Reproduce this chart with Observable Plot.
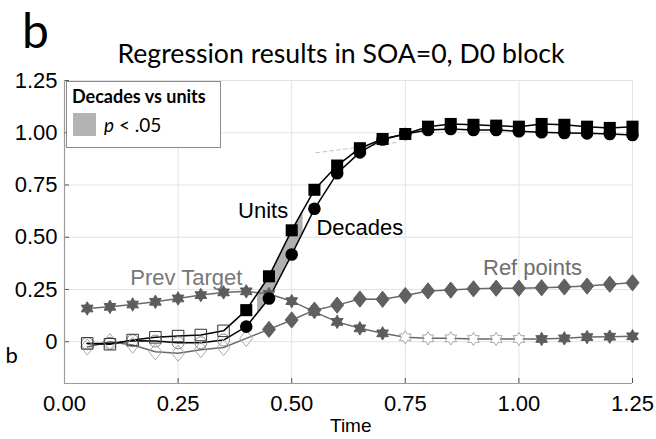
<!DOCTYPE html>
<html>
<head>
<meta charset="utf-8">
<script src="https://cdn.jsdelivr.net/npm/d3@7"></script>
<script src="https://cdn.jsdelivr.net/npm/@observablehq/plot@0.6"></script>
<style>
  html, body { margin: 0; padding: 0; background: #fff; }
  #wrap { position: relative; width: 656px; height: 439px; overflow: hidden; background: #fff; }
  #head { height: 60px; }
  #wrap svg { display: block; }
  .abs { position: absolute; white-space: nowrap; }
</style>
</head>
<body>
<div id="wrap"><div id="head"></div></div>
<script>
// ---------------- data ----------------
const times = [0.05, 0.10, 0.15, 0.20, 0.25, 0.30, 0.35, 0.40, 0.45, 0.50, 0.55, 0.60, 0.65,
               0.70, 0.75, 0.80, 0.85, 0.90, 0.95, 1.00, 1.05, 1.10, 1.15, 1.20, 1.25];
const units = [-0.008, -0.012, 0.008, 0.021, 0.027, 0.032, 0.052, 0.151, 0.313, 0.533, 0.727, 0.843, 0.926,
               0.970, 0.994, 1.029, 1.042, 1.038, 1.034, 1.029, 1.042, 1.038, 1.029, 1.023, 1.029];
const decades = [-0.008, -0.008, 0.005, 0.003, -0.005, -0.005, 0.008, 0.072, 0.207, 0.417, 0.636, 0.806, 0.906,
                 0.968, 0.994, 1.013, 1.018, 1.013, 1.013, 1.007, 1.002, 0.999, 0.997, 0.994, 0.989];
const refPoints = [-0.025, 0.000, -0.016, -0.048, -0.055, -0.038, -0.028, 0.016, 0.059, 0.104, 0.151, 0.175, 0.204,
                   0.203, 0.221, 0.243, 0.247, 0.253, 0.256, 0.256, 0.258, 0.262, 0.266, 0.275, 0.282];
const prevTarget = [0.159, 0.167, 0.178, 0.191, 0.207, 0.223, 0.236, 0.241, 0.228, 0.194, 0.143, 0.095, 0.064,
                    0.040, 0.021, 0.016, 0.016, 0.013, 0.013, 0.013, 0.013, 0.016, 0.022, 0.024, 0.026];
// significance of each point (1 = filled marker, 0 = open marker)
const unitsSig   = [0,0,0,0,0,0,0,1,1,1,1,1,1,1,1,1,1,1,1,1,1,1,1,1,1];
const decadesSig = [0,0,0,0,0,0,0,1,1,1,1,1,1,1,1,1,1,1,1,1,1,1,1,1,1];
const refSig     = [0,0,0,0,0,0,0,0,1,1,1,1,1,1,1,1,1,1,1,1,1,1,1,1,1];
const prevSig    = [1,1,1,1,1,1,1,1,1,1,1,1,1,1,0,0,0,0,0,0,1,1,1,1,1];
// decades vs units significant window
const sigWindow = [0.425, 0.525];
// faint dashed trend segment
const trendT = [0.553, 0.733];
const trendV = [0.904, 0.954];
// ticks
const xTicks = [0, 0.25, 0.5, 0.75, 1, 1.25];
const xTickLabels = ["0.00", "0.25", "0.50", "0.75", "1.00", "1.25"];
const yTicks = [0, 0.25, 0.5, 0.75, 1, 1.25];
const yTickLabels = ["0", "0.25", "0.50", "0.75", "1.00", "1.25"];
const yDomain = [-0.2, 1.25];
const xDomain = [0, 1.25];
// series labels (anchor point in data coordinates)
const labelText = ["Units", "Decades", "Prev Target", "Ref points"];
const labelT = [0.437, 0.650, 0.268, 1.030];
const labelV = [0.594, 0.509, 0.272, 0.318];
const labelColor = ["#000", "#000", "#777", "#6e6e6e"];

// ---------------- derived tables ----------------
const rows = times.map((t, i) => ({
  t, units: units[i], decades: decades[i], ref: refPoints[i], prev: prevTarget[i],
  uS: unitsSig[i], dS: decadesSig[i], rS: refSig[i], pS: prevSig[i]
}));
const uInterp = d3.scaleLinear(times, units);
const dInterp = d3.scaleLinear(times, decades);
const bandT = [sigWindow[0], ...times.filter(t => t > sigWindow[0] && t < sigWindow[1]), sigWindow[1]];
const band = bandT.map(t => ({t, lo: dInterp(t), hi: uInterp(t)}));
const trend = trendT.map((t, i) => ({t, v: trendV[i]}));
const labels = labelText.map((s, i) => ({s, t: labelT[i], v: labelV[i], c: labelColor[i]}));

// ---------------- custom symbols ----------------
const hexagram = {
  draw(ctx, size) {
    const r = Math.sqrt(size / Math.PI) * 1.12, ri = r / Math.sqrt(3);
    for (let k = 0; k < 12; k++) {
      const a = -Math.PI / 2 + k * Math.PI / 6, rr = k % 2 ? ri : r;
      const x = rr * Math.cos(a), y = rr * Math.sin(a);
      k ? ctx.lineTo(x, y) : ctx.moveTo(x, y);
    }
    ctx.closePath();
  }
};
const diamond = {
  draw(ctx, size) {
    const r = Math.sqrt(size / Math.PI);
    const w = r * 1.0, h = r * 1.25;
    ctx.moveTo(0, -h); ctx.lineTo(w, 0); ctx.lineTo(0, h); ctx.lineTo(-w, 0); ctx.closePath();
  }
};

// ---------------- plot ----------------
const W = 656, H = 379, mT = 20, mB = 56, mL = 64, mR = 24;
const innerW = W - mL - mR, innerH = H - mT - mB;
const grayFill = "#5c5c5c";

const chart = Plot.plot({
  width: W, height: H,
  marginTop: mT, marginBottom: mB, marginLeft: mL, marginRight: mR,
  x: {domain: xDomain},
  y: {domain: yDomain},
  style: {fontFamily: "'Liberation Sans', Arial, sans-serif", fontSize: "22px", color: "#000", background: "#fff", overflow: "visible"},
  marks: [
    Plot.gridX(xTicks, {stroke: "#e2e2e2", strokeOpacity: 1}),
    Plot.gridY(yTicks, {stroke: "#e2e2e2", strokeOpacity: 1}),
    Plot.ruleX(xTicks, {x: d => d, insetTop: innerH - 5, stroke: "#555"}),
    Plot.ruleY(yTicks, {y: d => d, insetRight: innerW - 5, stroke: "#555"}),
    Plot.ruleX([xDomain[0]], {stroke: "#9a9a9a", strokeWidth: 1.2}),
    Plot.ruleY([yDomain[0]], {stroke: "#9a9a9a", strokeWidth: 1.2}),
    Plot.axisX(xTicks, {tickSize: 0, tickPadding: 12, fontSize: 22, label: null,
      tickFormat: d => xTickLabels[xTicks.indexOf(d)]}),
    Plot.axisY(yTicks, {tickSize: 0, tickPadding: 7, fontSize: 22, label: null,
      tickFormat: d => yTickLabels[yTicks.indexOf(d)]}),
    // significance band
    Plot.areaY(band, {x: "t", y1: "lo", y2: "hi", fill: "#b0b0b0"}),
    // faint dashed trend
    Plot.line(trend, {x: "t", y: "v", stroke: "#c4c4c4", strokeWidth: 1, strokeDasharray: "4,3"}),
    // lines
    Plot.line(rows, {x: "t", y: "prev", stroke: "#6a6a6a", strokeWidth: 1.5}),
    Plot.line(rows, {x: "t", y: "ref", stroke: "#6a6a6a", strokeWidth: 1.5}),
    Plot.line(rows, {x: "t", y: "decades", stroke: "#000", strokeWidth: 1.5}),
    Plot.line(rows, {x: "t", y: "units", stroke: "#000", strokeWidth: 1.5}),
    // prev target stars
    Plot.dot(rows.filter(d => !d.pS), {x: "t", y: "prev", symbol: hexagram, r: 6, fill: "#fff", stroke: "#a8a8a8", strokeWidth: 1}),
    Plot.dot(rows.filter(d => d.pS), {x: "t", y: "prev", symbol: hexagram, r: 6, fill: grayFill, stroke: grayFill, strokeWidth: 1}),
    // ref points diamonds
    Plot.dot(rows.filter(d => !d.rS), {x: "t", y: "ref", symbol: diamond, r: 6.5, fill: "none", stroke: "#aaa", strokeWidth: 1}),
    Plot.dot(rows.filter(d => d.rS), {x: "t", y: "ref", symbol: diamond, r: 6.5, fill: "#606060", stroke: "#606060", strokeWidth: 1}),
    // decades circles
    Plot.dot(rows.filter(d => !d.dS), {x: "t", y: "decades", symbol: "circle", r: 6, fill: "none", stroke: "#888", strokeWidth: 1}),
    Plot.dot(rows.filter(d => d.dS), {x: "t", y: "decades", symbol: "circle", r: 6.3, fill: "#000", stroke: "none"}),
    // units squares
    Plot.dot(rows.filter(d => !d.uS), {x: "t", y: "units", symbol: "square", r: 6.5, fill: "none", stroke: "#333", strokeWidth: 1}),
    Plot.dot(rows.filter(d => d.uS), {x: "t", y: "units", symbol: "square", r: 6.8, fill: "#000", stroke: "none"}),
    // series labels
    Plot.text(labels, {x: "t", y: "v", text: "s", fill: "c", fontSize: 22, textAnchor: "middle", lineAnchor: "bottom"})
  ]
});
const wrap = document.getElementById("wrap");
wrap.appendChild(chart);

// ---------------- chrome (title, panel letter, legend, axis labels) ----------------
function placeText(html, style, x, baseline, anchor) {
  const el = document.createElement("div");
  el.className = "abs";
  el.style.cssText += style;
  el.style.left = "0px"; el.style.top = "0px";
  el.innerHTML = html;
  wrap.appendChild(el);
  const probe = document.createElement("span");
  probe.style.cssText = "display:inline-block;width:0;height:0;vertical-align:baseline";
  el.appendChild(probe);
  const b = probe.offsetTop;
  const w = el.offsetWidth;
  el.style.top = (baseline - b) + "px";
  el.style.left = (anchor === "middle" ? x - w / 2 : anchor === "end" ? x - w : x) + "px";
  return el;
}
function fitWidth(el, target) {
  const fs = parseFloat(el.style.fontSize);
  const w = el.offsetWidth;
  el.style.fontSize = (fs * target / w) + "px";
}

// title
const tmp = placeText("Regression results in SOA=0, D0 block", "font-family:Lato,'Open Sans',sans-serif;font-size:27px;line-height:1.1;color:#000;", 0, 0, "start");
fitWidth(tmp, 447);
const titleFS = tmp.style.fontSize; tmp.remove();
placeText("Regression results in SOA=0, D0 block", `font-family:Lato,'Open Sans',sans-serif;font-size:${titleFS};line-height:1.1;color:#000;`, 341, 63.3, "middle");
// panel letter
placeText("b", "font-family:Lato,'Open Sans',sans-serif;font-size:48px;line-height:0.85;color:#000;", 22, 47.8, "start");
// y label
placeText("b", "font-family:Lato,'Open Sans',sans-serif;font-size:22px;line-height:1;color:#000;", 5.5, 362.7, "start");
// x label
placeText("Time", "font-family:'Liberation Sans',Arial,sans-serif;font-size:19px;line-height:1;color:#000;", 351, 431.7, "middle");

// legend box
const box = document.createElement("div");
box.className = "abs";
box.style.cssText += "left:66px;top:81px;width:155px;height:67px;box-sizing:border-box;border:1.5px solid #8c8c8c;background:#fff;";
wrap.appendChild(box);
const sw = document.createElement("div");
sw.className = "abs";
sw.style.cssText += "left:73px;top:113px;width:23px;height:23px;background:#b3b3b3;";
wrap.appendChild(sw);
placeText("Decades vs units", "font-family:Lato,'Open Sans',sans-serif;font-weight:bold;font-size:18px;line-height:1;color:#000;", 72, 103.3, "start");
placeText("<i>p</i> &lt; .05", "font-family:Lato,'Open Sans',sans-serif;font-size:19px;line-height:1;color:#000;", 104, 131.7, "start");
</script>
</body>
</html>
